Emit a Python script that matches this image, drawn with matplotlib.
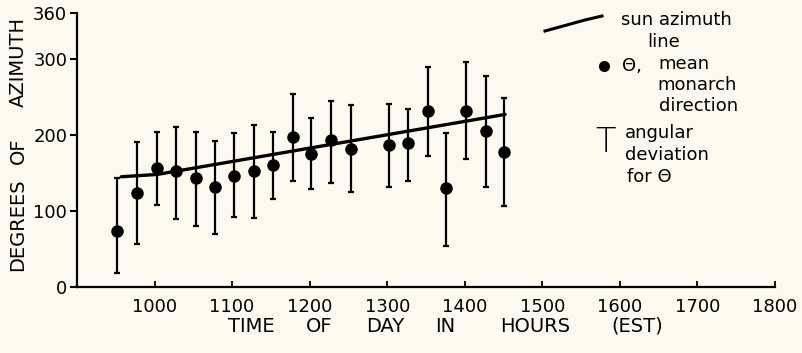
import numpy as np
import matplotlib.pyplot as plt
from matplotlib.lines import Line2D

# values
times = [952, 978, 1003, 1028, 1053, 1078, 1103, 1128, 1153, 1178,
         1202, 1227, 1253, 1302, 1327, 1353, 1376, 1401, 1427, 1451]
theta = [73, 124, 156, 153, 143, 131, 146, 153, 160, 197,
         175, 193, 181, 187, 189, 231, 130, 232, 205, 177]
dev_top = [143, 191, 204, 210, 204, 192, 202, 213, 204, 254,
           222, 244, 240, 241, 234, 290, 202, 296, 278, 249]
dev_bottom = [18, 56, 108, 89, 80, 70, 92, 91, 116, 140,
              129, 137, 125, 132, 140, 172, 54, 168, 132, 106]

sun_times = [957, 1003, 1452]
sun_azimuth = [145, 148, 227]

x_ticks = [1000, 1100, 1200, 1300, 1400, 1500, 1600, 1700, 1800]
y_ticks = [0, 100, 200, 300, 360]

bg = '#fcfaee'
W, H = 803, 353

fig = plt.figure(figsize=(W / 100, H / 100), dpi=100, facecolor=bg)
ax = fig.add_axes([77 / W, 1 - 287 / H, (775 - 77) / W, (287 - 13.3) / H])
ax.set_facecolor(bg)

theta = np.array(theta)
yerr = [theta - np.array(dev_bottom), np.array(dev_top) - theta]
ax.errorbar(times, theta, yerr=yerr, fmt='o', color='black', ms=8,
            elinewidth=1.6, capsize=2.5, capthick=1.6, zorder=3)
ax.plot(sun_times, sun_azimuth, color='black', lw=2.4, solid_capstyle='round', zorder=2)

ax.set_xlim(900, 1800)
ax.set_ylim(0, 360)
ax.set_xticks(x_ticks)
ax.set_yticks(y_ticks)
ax.tick_params(axis='x', direction='in', length=4, width=1.3, pad=8, labelsize=13)
ax.tick_params(axis='y', direction='out', length=5, width=1.5, pad=2, labelsize=13)
for s in ['top', 'right']:
    ax.spines[s].set_visible(False)
for s in ['left', 'bottom']:
    ax.spines[s].set_linewidth(1.6)

# axis titles, placed word by word to mimic the wide letter spacing
def px(x, y):
    return x / W, 1 - y / H

for word, xc in [('TIME', 251), ('OF', 319), ('DAY', 385), ('IN', 445),
                 ('HOURS', 535), ('(EST)', 637)]:
    fig.text(*px(xc, 326), word, ha='center', va='center', fontsize=14)
for word, yc in [('DEGREES', 225), ('OF', 151), ('AZIMUTH', 62)]:
    fig.text(*px(18, yc), word, ha='center', va='center', fontsize=14, rotation=90)

# hand-drawn style legend
fig.add_artist(Line2D(np.array([545, 565, 585, 602]) / W,
                      1 - np.array([31, 25.5, 20, 16]) / H, color='black', lw=2.2))
fs = 13
fig.text(*px(621, 20), 'sun azimuth', fontsize=fs, va='center')
fig.text(*px(647, 42), 'line', fontsize=fs, va='center')
fig.add_artist(Line2D([604 / W], [1 - 66 / H], marker='o', color='black', ms=7))
fig.text(*px(622, 66), 'Θ,', fontsize=fs, va='center')
fig.text(*px(658, 64), 'mean', fontsize=fs, va='center')
fig.text(*px(657, 85), 'monarch', fontsize=fs, va='center')
fig.text(*px(659, 106), 'direction', fontsize=fs, va='center')
fig.text(*px(605, 143), 'T', fontsize=24, va='center', ha='center', fontweight='light')
fig.text(*px(625, 133), 'angular', fontsize=fs, va='center')
fig.text(*px(625, 155), 'deviation', fontsize=fs, va='center')
fig.text(*px(627, 177), 'for Θ', fontsize=fs, va='center')

fig.savefig('out.png', dpi=100, facecolor=bg)
